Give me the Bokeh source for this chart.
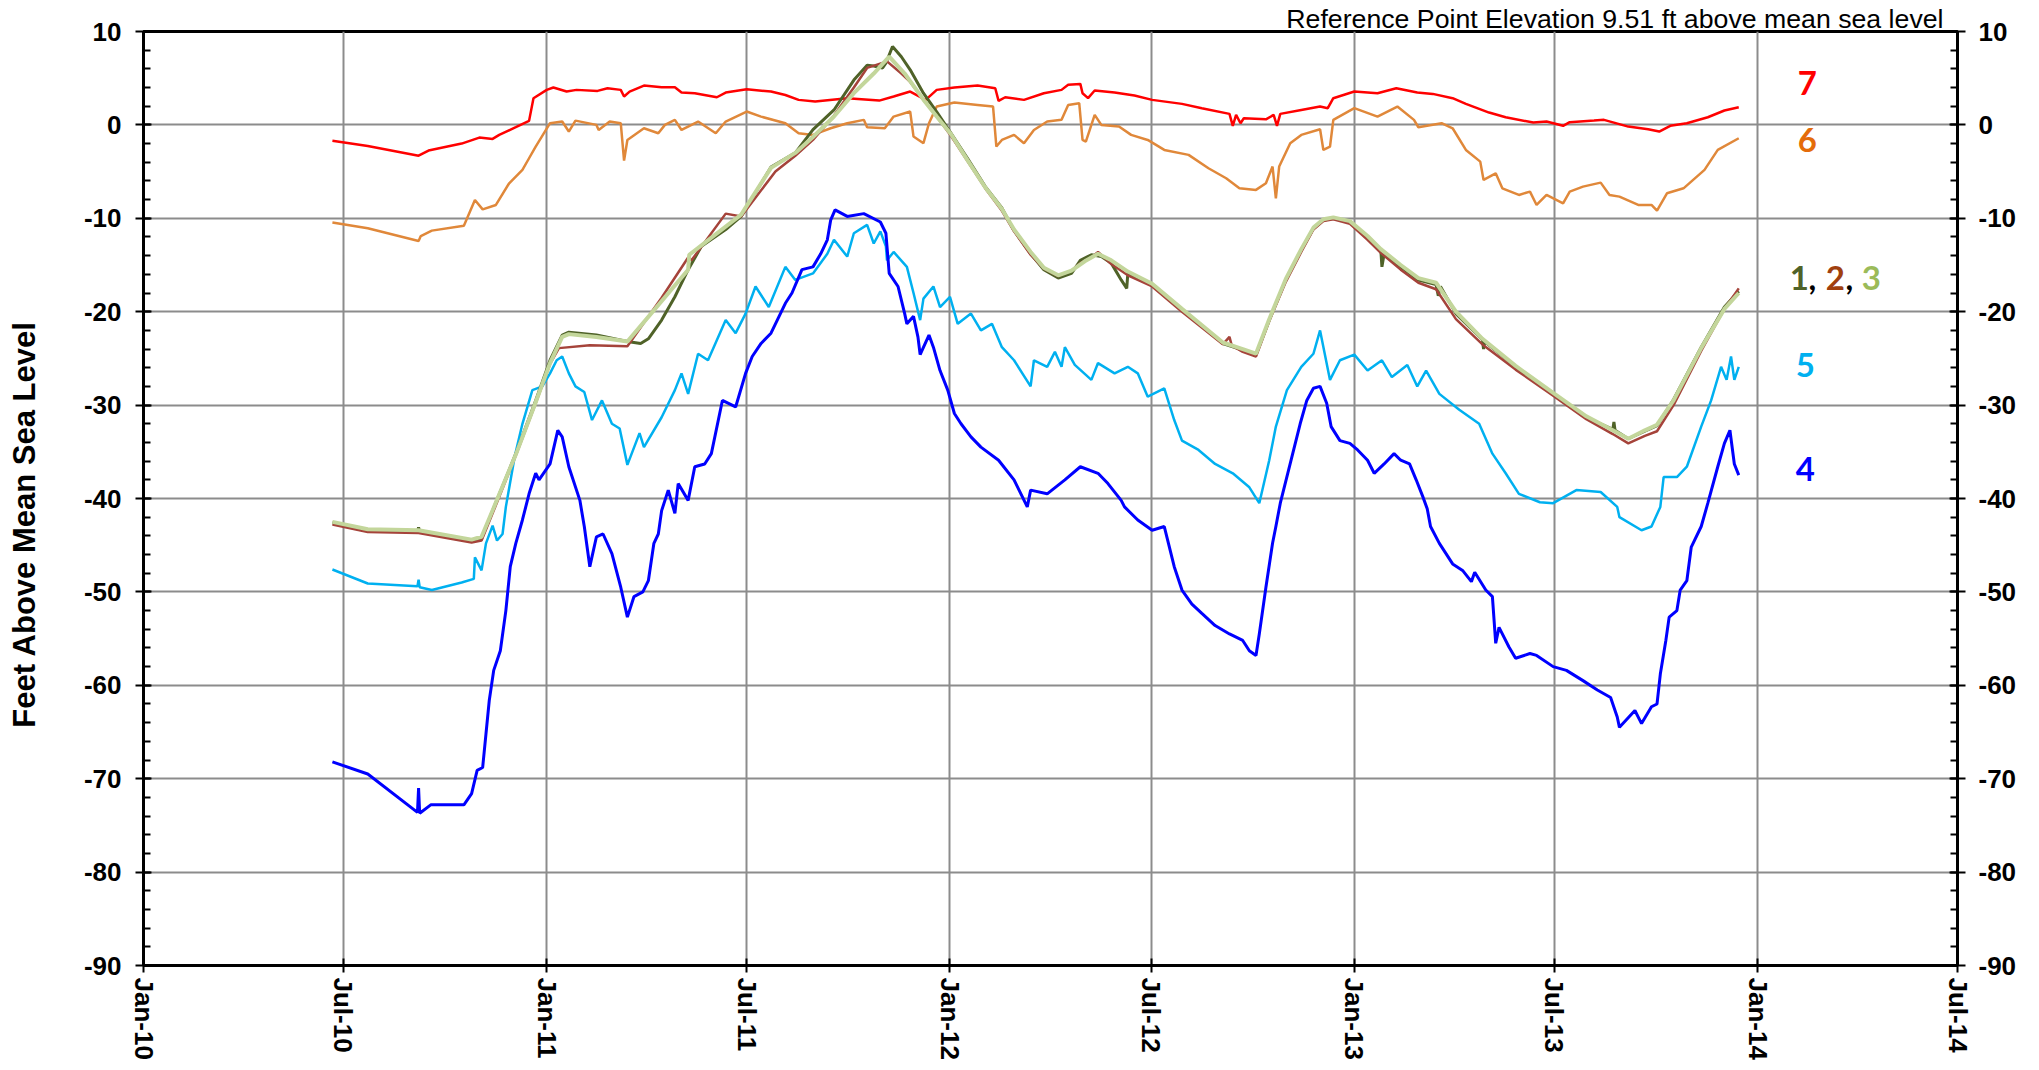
import math
import pandas as pd
from bokeh.plotting import figure
from bokeh.models import (Range1d, LinearAxis, SingleIntervalTicker, FixedTicker,
                          DatetimeTickFormatter, PrintfTickFormatter, ColumnDataSource)
from bokeh.core.properties import value
from bokeh.embed import file_html
from bokeh.resources import INLINE

# ---------------- data (feet above mean sea level) ----------------
TICK_DATES = ["2010-01-01", "2010-07-01", "2011-01-01", "2011-07-01", "2012-01-01",
              "2012-07-01", "2013-01-01", "2013-07-01", "2014-01-01", "2014-07-01"]

S7_DATES = ["2010-06-21", "2010-07-23", "2010-09-07", "2010-09-16", "2010-10-16", "2010-11-01",
            "2010-11-13", "2010-11-19", "2010-12-04", "2010-12-16", "2010-12-20", "2011-01-01",
            "2011-01-07", "2011-01-19", "2011-01-28", "2011-02-16", "2011-02-25", "2011-03-09",
            "2011-03-12", "2011-03-17", "2011-03-30", "2011-04-15", "2011-04-27", "2011-05-03",
            "2011-05-15", "2011-06-04", "2011-06-12", "2011-07-01", "2011-07-23", "2011-08-05",
            "2011-08-17", "2011-09-01", "2011-09-30", "2011-10-29", "2011-11-11", "2011-11-26",
            "2011-12-10", "2011-12-20", "2012-01-05", "2012-01-26", "2012-02-11", "2012-02-14",
            "2012-02-20", "2012-03-08", "2012-03-26", "2012-04-11", "2012-04-17", "2012-04-28",
            "2012-04-30", "2012-05-05", "2012-05-11", "2012-05-29", "2012-06-16", "2012-07-02",
            "2012-07-29", "2012-08-16", "2012-09-10", "2012-09-13", "2012-09-16", "2012-09-20",
            "2012-09-23", "2012-10-13", "2012-10-20", "2012-10-23", "2012-10-26", "2012-11-14",
            "2012-12-01", "2012-12-08", "2012-12-13", "2013-01-01", "2013-01-22", "2013-02-08",
            "2013-02-27", "2013-03-13", "2013-03-31", "2013-04-12", "2013-05-03", "2013-05-18",
            "2013-06-12", "2013-06-24", "2013-07-09", "2013-07-15", "2013-08-06", "2013-08-15",
            "2013-09-06", "2013-09-24", "2013-10-04", "2013-10-14", "2013-10-29", "2013-11-17",
            "2013-12-02", "2013-12-15"]
S7_FT = [-1.7, -2.25, -3.3, -2.75, -2.0, -1.36, -1.5, -1.07, -0.25, 0.43, 2.86, 3.75,
         4.0, 3.57, 3.75, 3.64, 3.93, 3.75, 3.04, 3.57, 4.21, 4.04, 4.04, 3.46,
         3.39, 2.96, 3.46, 3.82, 3.57, 3.2, 2.68, 2.5, 2.86, 2.6, 3.04, 3.57,
         2.68, 3.75, 4.0, 4.21, 3.93, 2.57, 2.96, 2.68, 3.39, 3.75, 4.29, 4.39,
         3.39, 2.86, 3.68, 3.46, 3.14, 2.68, 2.25, 1.79, 1.18, -0.1, 1.07, 0.18,
         0.71, 0.6, 1.07, -0.1, 1.18, 1.6, 1.96, 1.79, 2.86, 3.57, 3.39, 3.93,
         3.46, 3.32, 2.86, 2.25, 1.32, 0.82, 0.25, 0.36, -0.1, 0.29, 0.46, 0.54,
         -0.18, -0.46, -0.71, -0.1, 0.18, 0.82, 1.54, 1.89]

S6_DATES = ["2010-06-21", "2010-07-23", "2010-09-07", "2010-09-09", "2010-09-19", "2010-10-18",
            "2010-10-28", "2010-11-04", "2010-11-16", "2010-11-28", "2010-12-10", "2010-12-16",
            "2010-12-22", "2011-01-04", "2011-01-15", "2011-01-21", "2011-01-27", "2011-02-15",
            "2011-02-17", "2011-02-27", "2011-03-09", "2011-03-12", "2011-03-15", "2011-03-30",
            "2011-04-12", "2011-04-18", "2011-04-27", "2011-05-03", "2011-05-18", "2011-06-03",
            "2011-06-12", "2011-07-01", "2011-07-14", "2011-08-05", "2011-08-17", "2011-08-30",
            "2011-09-15", "2011-09-30", "2011-10-15", "2011-10-18", "2011-11-03", "2011-11-11",
            "2011-11-26", "2011-11-29", "2011-12-08", "2011-12-13", "2011-12-20", "2012-01-05",
            "2012-01-26", "2012-02-09", "2012-02-12", "2012-02-17", "2012-02-28", "2012-03-08",
            "2012-03-17", "2012-03-29", "2012-04-11", "2012-04-17", "2012-04-27", "2012-04-30",
            "2012-05-03", "2012-05-11", "2012-05-17", "2012-06-02", "2012-06-13", "2012-06-28",
            "2012-07-13", "2012-08-04", "2012-08-22", "2012-09-07", "2012-09-19", "2012-10-04",
            "2012-10-13", "2012-10-19", "2012-10-22", "2012-10-25", "2012-11-04", "2012-11-14",
            "2012-12-01", "2012-12-04", "2012-12-10", "2012-12-13", "2013-01-01", "2013-01-22",
            "2013-02-09", "2013-02-24", "2013-02-28", "2013-03-21", "2013-03-31", "2013-04-12",
            "2013-04-25", "2013-04-28", "2013-05-09", "2013-05-15", "2013-05-30", "2013-06-09",
            "2013-06-15", "2013-06-24", "2013-07-09", "2013-07-15", "2013-07-27", "2013-08-12",
            "2013-08-20", "2013-08-29", "2013-09-15", "2013-09-27", "2013-10-02", "2013-10-11",
            "2013-10-26", "2013-11-14", "2013-11-26", "2013-12-15"]
S6_FT = [-10.46, -11.07, -12.43, -11.9, -11.32, -10.79, -8.04, -9.04, -8.57, -6.25, -4.82, -3.57,
         -2.32, 0.18, 0.36, -0.71, 0.46, 0.0, -0.54, 0.36, 0.18, -3.82, -1.61, -0.36,
         -0.89, 0.0, 0.54, -0.54, 0.36, -0.89, 0.36, 1.43, 0.89, 0.18, -0.89, -1.07,
         -0.36, 0.18, 0.54, -0.25, -0.36, 0.89, 1.43, -1.25, -1.96, 0.18, 1.96, 2.39,
         2.14, 1.96, -2.32, -1.61, -1.07, -1.96, -0.54, 0.36, 0.54, 2.14, 2.32, -1.61,
         -1.79, 1.07, 0.0, -0.18, -1.07, -1.61, -2.68, -3.21, -4.64, -5.71, -6.79, -6.96,
         -6.25, -4.46, -7.86, -4.46, -1.96, -1.07, -0.46, -2.68, -2.32, 0.54, 1.79, 0.89,
         1.96, 0.54, -0.25, 0.18, -0.36, -2.68, -3.93, -5.89, -5.18, -6.79, -7.5, -7.14,
         -8.57, -7.5, -8.39, -7.14, -6.61, -6.18, -7.5, -7.68, -8.57, -8.57, -9.18, -7.32,
         -6.79, -4.82, -2.68, -1.43]

S1_DATES = ["2010-06-21", "2010-07-23", "2010-09-06", "2010-09-07", "2010-09-08", "2010-10-25",
            "2010-11-03", "2010-11-14", "2010-12-04", "2010-12-22", "2011-01-04", "2011-01-15",
            "2011-01-21", "2011-02-15", "2011-03-15", "2011-03-27", "2011-04-03", "2011-04-15",
            "2011-04-27", "2011-05-09", "2011-05-21", "2011-06-12", "2011-06-26", "2011-07-23",
            "2011-08-14", "2011-08-30", "2011-09-18", "2011-10-06", "2011-10-18", "2011-10-24",
            "2011-11-01", "2011-11-04", "2011-11-10", "2011-11-18", "2011-11-26", "2011-12-08",
            "2011-12-20", "2012-01-02", "2012-01-17", "2012-02-02", "2012-02-17", "2012-02-28",
            "2012-03-14", "2012-03-26", "2012-04-08", "2012-04-20", "2012-04-28", "2012-05-08",
            "2012-05-17", "2012-05-26", "2012-06-04", "2012-06-09", "2012-06-10", "2012-07-02",
            "2012-07-29", "2012-09-04", "2012-09-22", "2012-10-04", "2012-10-16", "2012-10-31",
            "2012-11-14", "2012-11-25", "2012-12-04", "2012-12-13", "2012-12-28", "2013-01-13",
            "2013-01-25", "2013-01-26", "2013-01-28", "2013-02-12", "2013-02-28", "2013-03-16",
            "2013-03-18", "2013-03-20", "2013-04-03", "2013-04-27", "2013-04-28", "2013-04-29",
            "2013-05-27", "2013-06-30", "2013-07-30", "2013-08-23", "2013-08-24", "2013-08-25",
            "2013-09-06", "2013-09-21", "2013-10-02", "2013-10-17", "2013-11-11", "2013-12-02",
            "2013-12-15"]
S1_FT = [-42.6, -43.4, -43.5, -43.1, -43.6, -44.5, -44.3, -41.0, -35.2, -29.5, -25.2, -22.5,
         -22.2, -22.5, -23.2, -23.4, -22.9, -20.9, -18.4, -15.5, -13.0, -11.2, -9.8, -4.5,
         -3.0, -0.5, 1.6, 4.8, 6.4, 6.3, 6.1, 6.6, 8.4, 7.3, 5.9, 3.4,
         1.4, -0.9, -3.6, -6.6, -8.9, -11.3, -13.8, -15.5, -16.4, -15.9, -14.5, -13.9,
         -14.1, -14.8, -16.6, -17.5, -15.9, -17.1, -19.8, -23.4, -24.1, -24.6, -20.9, -16.6,
         -13.4, -11.1, -10.2, -10.0, -10.4, -12.0, -13.4, -15.2, -13.8, -15.2, -16.6, -17.1,
         -18.3, -17.3, -20.2, -23.0, -24.0, -23.2, -25.9, -28.8, -31.3, -32.6, -31.8, -32.7,
         -33.6, -32.8, -32.2, -29.4, -23.8, -19.5, -17.8]

S2_DATES = ["2010-06-21", "2010-07-23", "2010-09-07", "2010-10-25", "2010-11-03", "2010-11-14",
            "2010-12-04", "2010-12-22", "2011-01-04", "2011-01-12", "2011-02-09", "2011-03-15",
            "2011-04-15", "2011-05-09", "2011-05-12", "2011-06-12", "2011-06-26", "2011-07-27",
            "2011-08-14", "2011-08-30", "2011-09-18", "2011-10-06", "2011-10-18", "2011-11-05",
            "2011-11-18", "2011-11-26", "2011-12-08", "2011-12-20", "2012-01-02", "2012-01-17",
            "2012-02-02", "2012-02-17", "2012-02-28", "2012-03-14", "2012-03-26", "2012-04-08",
            "2012-04-20", "2012-04-28", "2012-05-08", "2012-05-14", "2012-05-26", "2012-06-10",
            "2012-07-02", "2012-07-29", "2012-09-04", "2012-09-10", "2012-09-12", "2012-09-22",
            "2012-10-04", "2012-10-16", "2012-10-31", "2012-11-14", "2012-11-25", "2012-12-04",
            "2012-12-13", "2012-12-28", "2013-01-13", "2013-01-25", "2013-02-12", "2013-02-28",
            "2013-03-16", "2013-04-03", "2013-04-27", "2013-05-27", "2013-06-30", "2013-07-30",
            "2013-08-23", "2013-09-06", "2013-09-21", "2013-10-02", "2013-10-17", "2013-11-11",
            "2013-12-02", "2013-12-15"]
S2_FT = [-42.8, -43.6, -43.7, -44.7, -44.5, -41.3, -35.4, -29.8, -25.6, -23.9, -23.6, -23.7,
         -18.5, -14.2, -14.5, -9.5, -9.8, -5.0, -3.3, -1.6, 1.0, 4.0, 6.1, 6.8,
         5.5, 4.6, 2.7, 0.9, -1.2, -3.9, -6.8, -9.2, -11.4, -13.9, -15.4, -16.2,
         -15.6, -14.8, -14.2, -13.6, -14.9, -16.1, -17.3, -20.0, -23.5, -22.7, -23.6, -24.3,
         -24.8, -21.0, -16.8, -13.6, -11.2, -10.3, -10.1, -10.6, -12.3, -13.7, -15.5, -16.9,
         -17.6, -20.8, -23.5, -26.2, -29.0, -31.5, -33.1, -34.1, -33.3, -32.8, -30.0, -24.2,
         -19.7, -17.5]

S3_DATES = ["2010-06-21", "2010-07-23", "2010-09-07", "2010-10-25", "2010-11-03", "2010-11-14",
            "2010-12-04", "2010-12-22", "2011-01-04", "2011-01-15", "2011-01-21", "2011-02-15",
            "2011-03-15", "2011-05-09", "2011-05-10", "2011-06-26", "2011-07-23", "2011-08-14",
            "2011-08-30", "2011-09-18", "2011-10-06", "2011-10-24", "2011-11-07", "2011-11-21",
            "2011-12-08", "2011-12-20", "2012-01-02", "2012-01-17", "2012-02-02", "2012-02-17",
            "2012-02-28", "2012-03-14", "2012-03-26", "2012-04-08", "2012-04-20", "2012-05-02",
            "2012-05-14", "2012-05-26", "2012-06-10", "2012-07-02", "2012-07-29", "2012-09-04",
            "2012-09-22", "2012-10-04", "2012-10-16", "2012-10-31", "2012-11-14", "2012-11-25",
            "2012-12-04", "2012-12-13", "2012-12-28", "2013-01-13", "2013-01-25", "2013-02-12",
            "2013-02-28", "2013-03-16", "2013-04-03", "2013-04-27", "2013-05-27", "2013-06-30",
            "2013-07-30", "2013-08-23", "2013-09-06", "2013-09-21", "2013-10-02", "2013-10-17",
            "2013-11-11", "2013-12-02", "2013-12-15"]
S3_FT = [-42.5, -43.3, -43.4, -44.4, -44.1, -41.0, -35.3, -29.7, -25.5, -22.7, -22.4, -22.7,
         -23.2, -15.5, -13.9, -9.6, -4.6, -3.0, -1.3, 0.9, 3.4, 5.5, 7.3, 5.5,
         2.7, 0.9, -1.0, -3.8, -6.7, -9.0, -11.2, -13.6, -15.3, -16.1, -15.6, -14.6,
         -13.8, -14.5, -15.7, -17.0, -19.7, -23.3, -24.0, -24.5, -20.8, -16.5, -13.3, -11.0,
         -10.1, -9.9, -10.3, -11.9, -13.3, -15.0, -16.4, -16.9, -20.0, -22.9, -25.8, -28.7,
         -31.2, -32.7, -33.6, -32.7, -32.1, -29.5, -23.9, -19.7, -18.0]

S5_DATES = ["2010-06-21", "2010-07-23", "2010-09-06", "2010-09-07", "2010-09-08", "2010-09-19",
            "2010-10-16", "2010-10-27", "2010-10-28", "2010-11-03", "2010-11-07", "2010-11-13",
            "2010-11-17", "2010-11-22", "2010-11-25", "2010-12-03", "2010-12-10", "2010-12-19",
            "2010-12-28", "2011-01-04", "2011-01-10", "2011-01-15", "2011-01-21", "2011-01-27",
            "2011-02-04", "2011-02-11", "2011-02-20", "2011-03-01", "2011-03-08", "2011-03-15",
            "2011-03-26", "2011-03-30", "2011-04-15", "2011-04-27", "2011-05-03", "2011-05-09",
            "2011-05-18", "2011-05-27", "2011-06-12", "2011-06-21", "2011-06-30", "2011-07-09",
            "2011-07-21", "2011-08-05", "2011-08-14", "2011-08-30", "2011-09-12", "2011-09-18",
            "2011-09-30", "2011-10-06", "2011-10-18", "2011-10-24", "2011-10-30", "2011-11-04",
            "2011-11-05", "2011-11-11", "2011-11-23", "2011-11-29", "2011-12-05", "2011-12-08",
            "2011-12-17", "2011-12-23", "2012-01-01", "2012-01-08", "2012-01-20", "2012-01-29",
            "2012-02-08", "2012-02-17", "2012-02-28", "2012-03-14", "2012-03-17", "2012-03-29",
            "2012-04-05", "2012-04-11", "2012-04-14", "2012-04-23", "2012-05-08", "2012-05-14",
            "2012-05-29", "2012-06-10", "2012-06-19", "2012-06-28", "2012-07-13", "2012-07-22",
            "2012-07-29", "2012-08-13", "2012-08-28", "2012-09-13", "2012-09-28", "2012-10-07",
            "2012-10-16", "2012-10-22", "2012-11-01", "2012-11-14", "2012-11-25", "2012-12-01",
            "2012-12-10", "2012-12-19", "2013-01-01", "2013-01-13", "2013-01-26", "2013-02-04",
            "2013-02-18", "2013-02-27", "2013-03-07", "2013-03-19", "2013-04-06", "2013-04-24",
            "2013-05-06", "2013-05-18", "2013-05-30", "2013-06-18", "2013-06-30", "2013-07-21",
            "2013-08-12", "2013-08-27", "2013-08-29", "2013-09-18", "2013-09-27", "2013-10-05",
            "2013-10-08", "2013-10-20", "2013-10-29", "2013-11-11", "2013-11-20", "2013-11-29",
            "2013-12-04", "2013-12-08", "2013-12-11", "2013-12-15"]
S5_FT = [-47.6, -49.1, -49.4, -48.7, -49.5, -49.8, -49.0, -48.6, -46.3, -47.7, -44.8, -42.9,
         -44.5, -43.8, -40.9, -35.5, -32.0, -28.4, -28.0, -26.6, -25.2, -24.8, -26.6, -28.0,
         -28.6, -31.6, -29.5, -32.0, -32.5, -36.4, -33.0, -34.5, -31.3, -28.4, -26.6, -28.8,
         -24.5, -25.2, -20.9, -22.3, -20.2, -17.3, -19.5, -15.2, -16.6, -15.9, -13.8, -12.3,
         -14.1, -11.6, -10.7, -12.7, -11.4, -13.0, -14.5, -13.6, -15.2, -18.0, -20.9, -18.6,
         -17.3, -19.5, -18.4, -21.3, -20.2, -22.0, -21.3, -23.8, -25.2, -28.0, -25.2, -25.9,
         -24.3, -25.9, -23.8, -25.7, -27.3, -25.5, -26.6, -25.9, -26.6, -29.1, -28.2, -31.6,
         -33.8, -34.8, -36.3, -37.3, -38.8, -40.5, -35.9, -32.3, -28.4, -25.9, -24.5, -22.0,
         -27.3, -25.2, -24.6, -26.3, -25.2, -27.0, -25.7, -28.0, -26.3, -28.8, -30.5, -32.0,
         -35.2, -37.3, -39.5, -40.4, -40.5, -39.1, -39.3, -40.9, -42.0, -43.4, -43.0, -40.9,
         -37.7, -37.7, -36.6, -32.3, -29.5, -25.9, -27.3, -24.8, -27.3, -25.9]

S4_DATES = ["2010-06-21", "2010-07-23", "2010-09-06", "2010-09-07", "2010-09-08", "2010-09-18",
            "2010-10-18", "2010-10-25", "2010-10-30", "2010-11-04", "2010-11-07", "2010-11-10",
            "2010-11-14", "2010-11-20", "2010-11-25", "2010-11-29", "2010-12-04", "2010-12-10",
            "2010-12-16", "2010-12-22", "2010-12-25", "2011-01-04", "2011-01-11", "2011-01-15",
            "2011-01-21", "2011-01-31", "2011-02-04", "2011-02-09", "2011-02-15", "2011-02-21",
            "2011-03-01", "2011-03-09", "2011-03-15", "2011-03-21", "2011-03-29", "2011-04-03",
            "2011-04-08", "2011-04-12", "2011-04-15", "2011-04-21", "2011-04-27", "2011-04-30",
            "2011-05-09", "2011-05-15", "2011-05-24", "2011-05-30", "2011-06-09", "2011-06-21",
            "2011-06-30", "2011-07-06", "2011-07-14", "2011-07-23", "2011-08-05", "2011-08-11",
            "2011-08-20", "2011-08-30", "2011-09-06", "2011-09-12", "2011-09-15", "2011-09-19",
            "2011-09-30", "2011-10-15", "2011-10-30", "2011-11-04", "2011-11-07", "2011-11-15",
            "2011-11-21", "2011-11-23", "2011-11-29", "2011-12-03", "2011-12-05", "2011-12-13",
            "2011-12-17", "2011-12-23", "2011-12-30", "2012-01-05", "2012-01-11", "2012-01-20",
            "2012-01-29", "2012-02-14", "2012-02-28", "2012-03-11", "2012-03-14", "2012-03-29",
            "2012-04-14", "2012-04-28", "2012-05-14", "2012-05-23", "2012-06-04", "2012-06-07",
            "2012-06-19", "2012-07-02", "2012-07-13", "2012-07-22", "2012-07-29", "2012-08-07",
            "2012-08-16", "2012-08-28", "2012-09-10", "2012-09-22", "2012-09-28", "2012-10-04",
            "2012-10-07", "2012-10-13", "2012-10-19", "2012-10-22", "2012-10-26", "2012-11-13",
            "2012-11-19", "2012-11-25", "2012-12-01", "2012-12-07", "2012-12-11", "2012-12-19",
            "2012-12-28", "2013-01-04", "2013-01-13", "2013-01-19", "2013-01-28", "2013-02-06",
            "2013-02-12", "2013-02-20", "2013-02-26", "2013-03-04", "2013-03-08", "2013-03-11",
            "2013-03-19", "2013-03-31", "2013-04-09", "2013-04-17", "2013-04-20", "2013-04-30",
            "2013-05-06", "2013-05-09", "2013-05-12", "2013-05-21", "2013-05-27", "2013-06-09",
            "2013-06-15", "2013-06-30", "2013-07-12", "2013-07-27", "2013-08-09", "2013-08-21",
            "2013-08-27", "2013-08-29", "2013-09-12", "2013-09-18", "2013-09-27", "2013-10-02",
            "2013-10-05", "2013-10-10", "2013-10-13", "2013-10-20", "2013-10-23", "2013-10-29",
            "2013-11-02", "2013-11-11", "2013-11-17", "2013-11-26", "2013-12-02", "2013-12-07",
            "2013-12-11", "2013-12-15"]
S4_FT = [-68.2, -69.5, -73.6, -71.0, -73.7, -72.8, -72.8, -71.6, -69.1, -68.8, -65.2, -61.6,
         -58.4, -56.3, -52.0, -47.3, -44.8, -42.3, -39.5, -37.3, -38.0, -36.3, -32.7, -33.4,
         -36.6, -40.2, -43.0, -47.3, -44.1, -43.8, -45.9, -49.5, -52.7, -50.5, -50.0, -48.8,
         -44.8, -43.8, -41.3, -39.1, -41.6, -38.4, -40.2, -36.6, -36.3, -35.2, -29.5, -30.2,
         -26.6, -24.8, -23.4, -22.3, -19.1, -18.0, -15.5, -15.2, -13.8, -12.3, -10.2, -9.1,
         -9.8, -9.5, -10.4, -11.6, -15.9, -17.3, -20.2, -21.3, -20.5, -22.7, -24.6, -22.5,
         -23.8, -26.3, -28.4, -30.9, -32.0, -33.4, -34.5, -35.9, -38.0, -40.9, -39.1, -39.5,
         -38.0, -36.6, -37.3, -38.4, -40.2, -40.9, -42.3, -43.4, -43.0, -47.3, -49.8, -51.3,
         -52.3, -53.6, -54.5, -55.2, -56.3, -56.8, -54.5, -49.5, -44.8, -43.0, -40.5, -32.0,
         -29.5, -28.2, -28.0, -29.8, -32.3, -33.8, -34.1, -34.8, -35.9, -37.3, -36.3, -35.2,
         -35.9, -36.3, -38.0, -39.8, -41.1, -43.0, -44.8, -47.0, -47.7, -48.9, -47.9, -49.8,
         -50.5, -55.5, -53.8, -55.9, -57.1, -56.6, -56.8, -58.0, -58.4, -59.5, -60.5, -61.3,
         -63.4, -64.5, -62.7, -64.1, -62.3, -62.0, -58.8, -55.2, -52.7, -52.0, -49.8, -48.8,
         -45.2, -43.0, -40.5, -36.6, -34.1, -32.7, -36.3, -37.5]

# series end labels
LABEL_TEXT = ["7", "6", "1", ",", "2", ",", "3", "5", "4"]
LABEL_DATE = ["2014-02-15"] * 9
LABEL_FT = [4.5, -1.6, -16.4, -16.4, -16.4, -16.4, -16.4, -25.7, -36.8]
LABEL_DX = [0, 0, -8, 5, 28, 42, 64, -2, -2]
LABEL_COLOR = ["#FF0000", "#E46C0A", "#4F6228", "#000000", "#A0400F", "#000000", "#9BBB59",
               "#00B0F0", "#0000FF"]

TITLE_Y = "Feet Above Mean Sea Level"
NOTE = "Reference Point Elevation 9.51 ft above mean sea level"

# ---------------- figure ----------------
def ts(d):
    return pd.to_datetime(d)

def ms(d):
    return pd.Timestamp(d).value / 1e6

FONT = "Liberation Sans"

p = figure(width=2031, height=1062, x_axis_type="datetime",
           x_range=Range1d(ts("2010-01-01"), ts("2014-07-01")),
           y_range=Range1d(-90, 10),
           output_backend="svg", toolbar_location=None,
           min_border_left=143, min_border_right=74, min_border_top=31, min_border_bottom=96)
p.background_fill_color = "white"
p.border_fill_color = "white"
p.outline_line_color = "black"
p.outline_line_width = 3

# note above the plot (as the figure title, right-aligned)
p.title.text = NOTE
p.title.align = "right"
p.title.text_font = FONT
p.title.text_font_style = "normal"
p.title.text_font_size = "26.7px"
p.title.text_color = "black"
p.title.offset = 14
try:
    p.title.standoff = -4
except Exception:
    p.title.standoff = 0

# x axis
xticker = FixedTicker(ticks=[ms(d) for d in TICK_DATES])
p.xaxis.ticker = xticker
p.xgrid.ticker = xticker
p.xaxis.formatter = DatetimeTickFormatter(days="%b-%y", months="%b-%y", years="%b-%y")
p.xaxis.major_label_orientation = -math.pi / 2
p.xaxis.major_label_text_font = FONT
p.xaxis.major_label_text_font_style = "bold"
p.xaxis.major_label_text_font_size = "26px"
p.xaxis.major_label_text_color = "black"
p.xaxis.major_label_standoff = 5
p.xaxis.axis_line_width = 3
p.xaxis.axis_line_color = "black"
p.xaxis.major_tick_in = 7
p.xaxis.major_tick_out = 7
p.xaxis.major_tick_line_width = 2
p.xaxis.minor_tick_line_color = None

# y axes
def style_y(ax, standoff):
    ax.ticker = SingleIntervalTicker(interval=10, num_minor_ticks=5)
    ax.formatter = PrintfTickFormatter(format="%d")
    ax.major_label_text_font = FONT
    ax.major_label_text_font_style = "bold"
    ax.major_label_text_font_size = "26px"
    ax.major_label_text_color = "black"
    ax.major_label_standoff = standoff
    ax.axis_line_width = 3
    ax.axis_line_color = "black"
    ax.major_tick_in = 8
    ax.major_tick_out = 8
    ax.major_tick_line_width = 2
    ax.minor_tick_in = 7
    ax.minor_tick_out = 0
    ax.minor_tick_line_width = 2
    ax.minor_tick_line_color = "black"

style_y(p.yaxis[0], 14)
p.yaxis[0].axis_label = TITLE_Y + "\u00a0" * 6
p.yaxis[0].axis_label_text_font = FONT
p.yaxis[0].axis_label_text_font_style = "bold"
p.yaxis[0].axis_label_text_font_size = "31px"
p.yaxis[0].axis_label_text_color = "black"
p.yaxis[0].axis_label_standoff = 39

right_axis = LinearAxis()
style_y(right_axis, 13)
p.add_layout(right_axis, "right")
p.ygrid.ticker = SingleIntervalTicker(interval=10)

for g in (p.xgrid, p.ygrid):
    g.grid_line_color = "#8C8C8C"
    g.grid_line_width = 2

# series lines
p.line(ts(S7_DATES), S7_FT, line_color="#FF0000", line_width=2.5)
p.line(ts(S6_DATES), S6_FT, line_color="#E0883A", line_width=2.5)
p.line(ts(S5_DATES), S5_FT, line_color="#00B0F0", line_width=2.5)
p.line(ts(S4_DATES), S4_FT, line_color="#0000FF", line_width=3)
p.line(ts(S1_DATES), S1_FT, line_color="#4F6228", line_width=3)
p.line(ts(S2_DATES), S2_FT, line_color="#A5433A", line_width=2.5)
p.line(ts(S3_DATES), S3_FT, line_color="#C3D69B", line_width=4)

# series labels
lab_src = ColumnDataSource(dict(x=ts(LABEL_DATE), y=LABEL_FT, text=LABEL_TEXT,
                                color=LABEL_COLOR, dx=LABEL_DX))
p.text(x="x", y="y", text="text", source=lab_src, text_color="color", x_offset="dx",
       text_font=value("Lato"), text_font_style="bold", text_font_size="33px",
       text_align="center", text_baseline="middle")

open("out.html", "w").write(file_html(p, INLINE))
